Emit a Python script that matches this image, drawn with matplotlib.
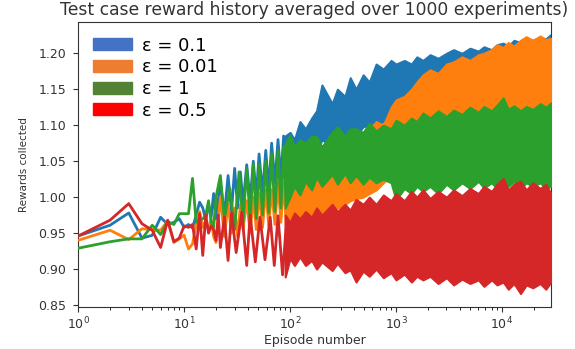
import matplotlib
matplotlib.use("Agg")
import matplotlib.pyplot as plt
from matplotlib.patches import Patch

# ---------------- data ----------------
title = "Test case reward history averaged over 1000 experiments)"
xlabel = "Episode number"
ylabel = "Rewards collected"
labels = ["ε = 0.1", "ε = 0.01", "ε = 1", "ε = 0.5"]
yticks = [0.85, 0.90, 0.95, 1.00, 1.05, 1.10, 1.15, 1.20]

# individual early episodes (line part)
blue_n = [1, 2, 3, 4, 5, 6, 7, 8, 9, 10, 11, 12, 13, 14, 15, 16, 17, 18, 19, 20,
          22, 24, 26, 28, 30, 32, 34, 36, 39, 42, 45, 48, 51, 55, 59, 63, 67, 72,
          77, 82, 87, 92]
blue_v = [0.946, 0.961, 0.978, 0.943, 0.947, 0.972, 0.962, 0.965, 0.970, 0.958,
          0.962, 0.957, 0.975, 0.993, 0.985, 0.968, 0.990, 0.972, 1.005, 0.970,
          1.020, 0.975, 1.030, 0.980, 1.040, 0.985, 1.035, 0.990, 1.045, 0.995,
          1.050, 1.000, 1.060, 1.005, 1.065, 1.010, 1.075, 1.020, 1.080, 1.025,
          1.085, 1.030]

orange_n = [1, 2, 3, 4, 5, 6, 7, 8, 9, 10, 11, 12, 13, 14, 15, 16, 17, 18, 19, 20,
            22, 24, 26, 28, 30, 32, 34, 36, 39, 42, 45, 48, 51, 55, 59, 63, 67, 72,
            77, 82, 87, 92]
orange_v = [0.940, 0.954, 0.941, 0.956, 0.955, 0.954, 0.967, 0.937, 0.942, 0.947,
            0.928, 0.935, 0.963, 0.980, 0.958, 0.967, 0.955, 0.970, 0.945, 0.937,
            1.000, 0.945, 0.990, 0.950, 0.985, 0.945, 0.990, 0.955, 0.995, 0.950,
            1.000, 0.955, 1.005, 0.958, 1.010, 0.960, 1.010, 0.962, 1.020, 0.965,
            1.020, 0.965]

green_n = [1, 2, 3, 4, 5, 6, 7, 8, 9, 10, 11, 12, 13, 14, 15, 16, 17, 18, 19, 20,
           22, 24, 27, 30, 33, 36, 39, 42, 45, 48, 51, 55, 59, 63, 67, 72, 77, 82,
           87, 92]
green_v = [0.929, 0.938, 0.942, 0.942, 0.961, 0.948, 0.966, 0.962, 0.977, 0.977,
           0.977, 1.026, 0.965, 0.968, 0.970, 0.975, 0.995, 0.965, 0.958, 1.000,
           1.030, 0.970, 1.012, 0.955, 1.035, 0.965, 1.040, 0.968, 1.045, 0.970,
           1.045, 0.975, 1.050, 0.978, 1.060, 0.980, 1.065, 0.985, 1.070, 0.990]

red_n = [1, 2, 3, 4, 5, 6, 7, 8, 9, 10, 11, 12, 13, 14, 15, 16, 17, 18, 19, 20,
         21, 22, 24, 26, 28, 31, 35, 39, 42, 47, 52, 58, 65, 71, 77, 85, 93]
red_v = [0.946, 0.968, 0.991, 0.963, 0.954, 0.930, 0.968, 0.938, 0.943, 0.960,
         0.958, 0.962, 0.928, 0.977, 0.919, 0.975, 0.950, 0.960, 0.955, 0.940,
         0.975, 0.930, 0.972, 0.912, 0.978, 0.923, 0.979, 0.905, 0.975, 0.910,
         0.972, 0.913, 0.972, 0.905, 0.974, 0.892, 0.970]

# dense part (episodes >= 90): band edges
env_n = [90, 100, 110, 124, 140, 160, 178, 200, 250, 280, 330, 370, 420, 490,
         560, 650, 760, 900, 1000, 1200, 1400, 1575, 1800, 2100, 2500, 3000, 3500,
         4200, 5000, 6000, 6770, 8000, 9000, 10300, 11500, 13000, 15000, 17000,
         19600, 23000, 26000, 29000]

blue_hi = [1.085, 1.090, 1.080, 1.105, 1.095, 1.110, 1.120, 1.156, 1.130, 1.150,
           1.140, 1.166, 1.150, 1.170, 1.160, 1.185, 1.178, 1.190, 1.185, 1.190,
           1.185, 1.195, 1.190, 1.198, 1.193, 1.200, 1.205, 1.200, 1.207, 1.203,
           1.209, 1.205, 1.212, 1.214, 1.210, 1.218, 1.215, 1.220, 1.218, 1.222,
           1.220, 1.226]
blue_lo = [1.020, 1.030, 1.035, 1.045, 1.050, 1.055, 1.060, 1.080, 1.070, 1.090,
           1.078, 1.095, 1.085, 1.098, 1.100, 1.100, 1.105, 1.105, 1.110, 1.110,
           1.115, 1.115, 1.120, 1.120, 1.120, 1.125, 1.125, 1.130, 1.130, 1.135,
           1.135, 1.140, 1.140, 1.145, 1.145, 1.150, 1.150, 1.150, 1.150, 1.155,
           1.155, 1.155]

orange_hi = [1.020, 1.025, 1.020, 1.030, 1.025, 1.035, 1.030, 1.040, 1.045, 1.050,
             1.055, 1.060, 1.070, 1.090, 1.095, 1.105, 1.100, 1.125, 1.135, 1.140,
             1.150, 1.160, 1.170, 1.177, 1.172, 1.185, 1.188, 1.195, 1.190, 1.198,
             1.200, 1.205, 1.212, 1.208, 1.215, 1.210, 1.218, 1.223, 1.218, 1.224,
             1.219, 1.221]
orange_lo = [0.962, 0.968, 0.965, 0.970, 0.968, 0.972, 0.970, 0.975, 0.980, 0.985,
             0.990, 0.995, 0.998, 1.000, 1.005, 1.010, 1.020, 1.030, 1.040, 1.045,
             1.050, 1.055, 1.060, 1.065, 1.070, 1.075, 1.080, 1.085, 1.090, 1.090,
             1.095, 1.095, 1.100, 1.100, 1.100, 1.105, 1.105, 1.110, 1.110, 1.110,
             1.115, 1.115]

green_hi = [1.075, 1.086, 1.070, 1.080, 1.075, 1.085, 1.084, 1.070, 1.090, 1.098,
            1.085, 1.095, 1.095, 1.090, 1.103, 1.092, 1.100, 1.095, 1.107, 1.100,
            1.110, 1.105, 1.117, 1.110, 1.120, 1.112, 1.121, 1.115, 1.125, 1.118,
            1.126, 1.120, 1.128, 1.138, 1.122, 1.127, 1.120, 1.126, 1.122, 1.130,
            1.125, 1.131]
green_lo = [0.985, 1.000, 1.015, 1.003, 1.022, 1.010, 1.028, 1.015, 1.032, 1.018,
            1.033, 1.020, 1.030, 1.018, 1.028, 1.020, 1.025, 1.020, 0.996, 1.012,
            1.005, 1.015, 1.008, 1.015, 1.005, 1.018, 1.010, 1.020, 1.012, 1.022,
            1.013, 1.020, 1.012, 1.022, 1.015, 1.022, 1.012, 1.020, 1.015, 1.020,
            1.012, 1.015]

red_hi = [0.975, 0.965, 0.978, 0.970, 0.980, 0.972, 0.985, 0.975, 0.990, 0.980,
          0.990, 0.982, 0.997, 0.990, 1.000, 0.990, 1.003, 0.995, 1.005, 0.995,
          1.008, 1.000, 1.010, 0.998, 1.008, 1.000, 1.010, 1.002, 1.012, 1.005,
          1.015, 1.008, 1.018, 1.026, 1.010, 1.018, 1.022, 1.010, 1.020, 1.012,
          1.018, 1.005]
red_lo = [0.889, 0.915, 0.905, 0.917, 0.905, 0.912, 0.900, 0.910, 0.898, 0.908,
          0.895, 0.899, 0.882, 0.897, 0.890, 0.900, 0.888, 0.895, 0.885, 0.893,
          0.882, 0.890, 0.885, 0.890, 0.880, 0.888, 0.878, 0.886, 0.880, 0.885,
          0.876, 0.885, 0.878, 0.882, 0.872, 0.880, 0.866, 0.878, 0.874, 0.880,
          0.872, 0.882]

line_colors = ["#1f77b4", "#ff7f0e", "#2ca02c", "#d62728"]
legend_colors = ["#4472C4", "#ED7D31", "#548235", "#FF0000"]

# ---------------- figure ----------------
fig = plt.figure(figsize=(5.75, 3.49), dpi=100)
ax = fig.add_axes([0.136, 0.121, 0.822, 0.815])

series = [
    (blue_n, blue_v, blue_lo, blue_hi),
    (orange_n, orange_v, orange_lo, orange_hi),
    (green_n, green_v, green_lo, green_hi),
    (red_n, red_v, red_lo, red_hi),
]
for i, (n, v, lo, hi) in enumerate(series):
    c = line_colors[i]
    ax.plot(n, v, color=c, lw=2.0, zorder=2 + i)
    ax.fill_between(env_n, lo, hi, color=c, lw=1.5, edgecolor=c, zorder=2 + i)

ax.set_xscale("log")
ax.set_xlim(1, 29000)
ax.set_ylim(0.8476, 1.243)
ax.set_yticks(yticks)
ax.set_yticklabels([f"{t:.2f}" for t in yticks])

ax.tick_params(labelsize=9, colors="#333333")
ax.tick_params(axis="y", pad=5)
ax.tick_params(axis="x", pad=3)
for s in ax.spines.values():
    s.set_color("#333333")

ax.set_title(title, fontsize=12.3, color="#333333", pad=5)
ax.set_xlabel(xlabel, fontsize=9, color="#333333", labelpad=1)
ax.set_ylabel(ylabel, fontsize=7.5, color="#333333", labelpad=7)

handles = [Patch(facecolor=c, edgecolor=c) for c in legend_colors]
ax.legend(handles, labels, loc="upper left", frameon=False, fontsize=13,
          handlelength=2.2, handleheight=0.65, handletextpad=0.55,
          labelspacing=0.2, borderaxespad=0.6, borderpad=0.2)

fig.savefig("out.png", dpi=100)
